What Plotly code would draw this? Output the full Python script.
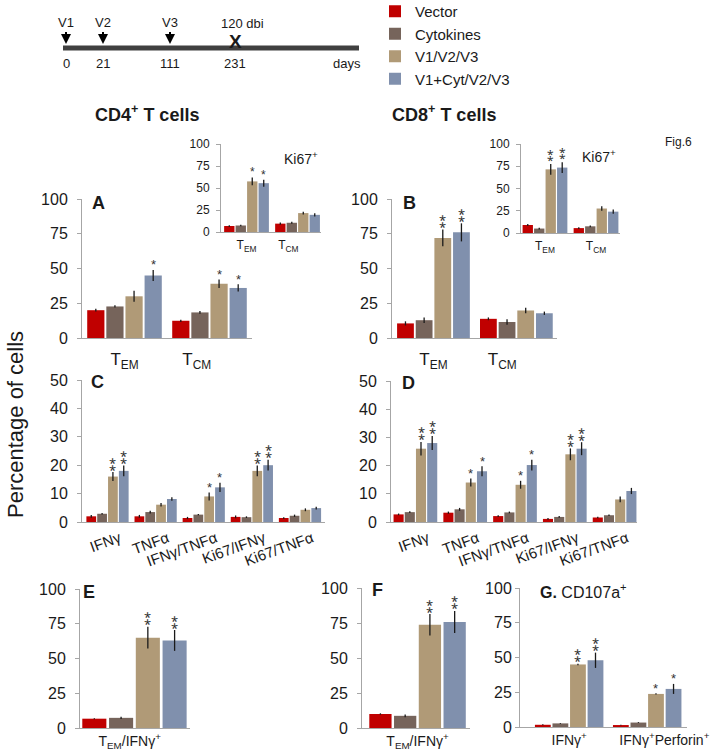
import plotly.graph_objects as go

W, H = 719, 754

# ---------------- data ----------------
groups = ["Vector", "Cytokines", "V1/V2/V3", "V1+Cyt/V2/V3"]
colors = ["#c00000", "#76645b", "#b09a77", "#8090ad"]

mem_labels = ["T<sub>EM</sub>", "T<sub>CM</sub>"]
cyt_labels = ["IFNγ", "TNFα", "IFNγ/TNFα", "Ki67/IFNγ", "Ki67/TNFα"]
ef_labels = ["T<sub>EM</sub>/IFNγ<sup>+</sup>"]
g_labels = ["IFNγ<sup>+</sup>", "IFNγ<sup>+</sup>Perforin<sup>+</sup>"]

# A: CD4+ memory subsets
A_vals = [[20, 12.4], [22.7, 18.4], [30, 39], [45, 36]]
A_err = [[1, 0.8], [0.8, 1], [4, 3], [4, 2.6]]
A_sig = [["", ""], ["", ""], ["", "*"], ["*", "*"]]
# A inset: CD4+ Ki67+
Ai_vals = [[6.8, 9.5], [7.4, 10.5], [57.5, 21.5], [55.5, 19.5]]
Ai_err = [[1, 1.2], [0.8, 1.2], [4.5, 1.5], [4, 1.8]]
Ai_sig = [["", ""], ["", ""], ["*", ""], ["*", ""]]
# B: CD8+ memory subsets
B_vals = [[10.5, 13.8], [12.8, 11.5], [72, 19.8], [76, 17.8]]
B_err = [[1.5, 1], [2, 2], [6, 2], [6.5, 1.2]]
B_sig = [["", ""], ["", ""], ["**", ""], ["**", ""]]
# B inset: CD8+ Ki67+
Bi_vals = [[9, 5.5], [5, 7.5], [71.5, 27.5], [73.5, 24]]
Bi_err = [[1, 1], [1, 1], [6, 2.5], [6, 2.5]]
Bi_sig = [["", ""], ["", ""], ["**", ""], ["**", ""]]
# C: CD4+ cytokines
C_vals = [[2, 2, 1.4, 1.8, 1.4],
          [2.9, 3.5, 2.6, 1.7, 2.2],
          [16, 6.1, 9, 18, 4.3],
          [18, 8.1, 12.2, 20, 4.9]]
C_err = [[0.5, 0.5, 0.4, 0.5, 0.3],
         [0.3, 0.5, 0.2, 0.3, 0.4],
         [1.6, 0.6, 1.4, 1.9, 0.5],
         [1.9, 0.6, 1.6, 1.9, 0.5]]
C_sig = [["", "", "", "", ""],
         ["", "", "", "", ""],
         ["**", "", "*", "**", ""],
         ["**", "", "*", "**", ""]]
# D: CD8+ cytokines
D_vals = [[2.7, 3.3, 2.1, 1.1, 1.6],
          [3.5, 4.5, 3.4, 1.8, 2.4],
          [26, 14, 13.2, 24, 8],
          [28, 18, 20.2, 26, 11]]
D_err = [[0.3, 0.4, 0.3, 0.3, 0.3],
         [0.3, 0.5, 0.3, 0.3, 0.3],
         [2.4, 1.4, 1.4, 2.1, 1],
         [2.5, 1.8, 1.9, 2.3, 1.1]]
D_sig = [["", "", "", "", ""],
         ["", "", "", "", ""],
         ["**", "*", "*", "**", ""],
         ["**", "*", "*", "**", ""]]
# E: CD4+ TEM/IFNγ+
E_vals = [[6.7], [7.3], [65], [63]]
E_err = [[0.4], [0.8], [7.8], [7.5]]
E_sig = [[""], [""], ["**"], ["**"]]
# F: CD8+ TEM/IFNγ+
F_vals = [[10], [8.7], [73.7], [75.7]]
F_err = [[0.5], [1], [7.7], [7.9]]
F_sig = [[""], [""], ["**"], ["**"]]
# G: CD107a+
G_vals = [[1.6, 1.4], [2.6, 3.2], [45, 23.8], [48, 27.4]]
G_err = [[0.4, 0.3], [0.3, 0.3], [0.5, 0.4], [5.5, 3.6]]
G_sig = [["", ""], ["", ""], ["**", "*"], ["**", "*"]]

# timeline (schematic)
tl_events = ["V1", "V2", "V3"]
tl_days = ["0", "21", "111", "231"]

# ---------------- layout helpers ----------------
BARGAP = 0.1
FONT = "Liberation Sans, Arial, sans-serif"
AXCOL = "#a6a6a6"
TXT = "#1a1a1a"
STARCOL = "#333333"
STAR_GLYPH = {"*": "*", "**": "⁑"}


def xp(px):
    return px / W


def yp(py):
    return 1 - py / H


fig = go.Figure()
layout = {}
annotations = []


def add_panel(n, labels, vals, errs, sigs, xdom, ydom, xrange, yrange, ytick,
              tickfont, xfont, legend=False, tickvals=None, tickangle=0,
              standoff=6, xstandoff=4, ticklen=4, star=13):
    xa = "x" if n == 1 else f"x{n}"
    ya = "y" if n == 1 else f"y{n}"
    ncat = len(labels)
    idx = list(range(ncat))
    slot = (1 - BARGAP) / len(groups)
    for k, g in enumerate(groups):
        fig.add_trace(go.Bar(
            x=idx, y=vals[k], name=g, xaxis=xa, yaxis=ya,
            marker=dict(color=colors[k], line=dict(width=0)),
            error_y=dict(type="data", array=errs[k], color="#1a1a1a",
                         thickness=1.3, width=0),
            showlegend=legend, legendrank=k, hoverinfo="skip"))
        for i in idx:
            s = sigs[k][i]
            if not s:
                continue
            double = len(s) > 1
            annotations.append(dict(
                x=i - (1 - BARGAP) / 2 + (k + 0.5) * slot,
                y=vals[k][i] + errs[k][i], xref=xa, yref=ya,
                text=STAR_GLYPH[s], showarrow=False,
                yanchor="middle", yshift=9 if double else 5,
                font=dict(size=star, color=STARCOL, family=FONT)))
    kx = "xaxis" if n == 1 else f"xaxis{n}"
    ky = "yaxis" if n == 1 else f"yaxis{n}"
    layout[kx] = dict(domain=[xp(xdom[0]), xp(xdom[1])], anchor=ya,
                      range=xrange, tickmode="array",
                      tickvals=tickvals if tickvals is not None else idx,
                      ticktext=labels, showline=True, linecolor=AXCOL,
                      linewidth=1, ticks="", showgrid=False, zeroline=False,
                      tickangle=tickangle, ticklabelstandoff=xstandoff,
                      tickfont=dict(size=xfont, color=TXT, family=FONT),
                      fixedrange=True, automargin=False)
    layout[ky] = dict(domain=[yp(ydom[1]), yp(ydom[0])], anchor=xa,
                      range=yrange, tickmode="linear", tick0=0, dtick=ytick,
                      showline=True, linecolor=AXCOL, linewidth=1,
                      ticks="outside", ticklen=ticklen, tickcolor=AXCOL,
                      showgrid=False, zeroline=False,
                      ticklabelstandoff=standoff,
                      tickfont=dict(size=tickfont, color=TXT, family=FONT),
                      fixedrange=True, automargin=False)


add_panel(1, mem_labels, A_vals, A_err, A_sig, (82, 252), (199, 338),
          [-0.5, 1.5], [0, 100], 25, 16, 17, legend=True,
          tickvals=[0, 0.85], xstandoff=6)
add_panel(2, mem_labels, Ai_vals, Ai_err, Ai_sig, (221, 321), (144, 232),
          [-0.5, 1.46], [0, 100], 25, 12, 12, tickvals=[0, 0.82],
          standoff=4, xstandoff=2, star=12)
add_panel(3, mem_labels, B_vals, B_err, B_sig, (392, 557), (199, 338),
          [-0.5, 1.49], [0, 100], 25, 16, 17, tickvals=[0, 0.83],
          xstandoff=6)
add_panel(4, mem_labels, Bi_vals, Bi_err, Bi_sig, (521, 620), (144, 233),
          [-0.47, 1.47], [0, 100], 25, 12, 12, standoff=4, xstandoff=2,
          star=12)
add_panel(5, cyt_labels, C_vals, C_err, C_sig, (82, 325), (380, 522),
          [-0.53, 4.52], [0, 50], 10, 16, 15, tickangle=-20,
          tickvals=[i + 0.25 for i in range(5)], xstandoff=1)
add_panel(6, cyt_labels, D_vals, D_err, D_sig, (391, 637), (381, 522),
          [-0.49, 4.45], [0, 50], 10, 16, 15, tickangle=-20,
          tickvals=[i + 0.25 for i in range(5)], xstandoff=1)
add_panel(7, ef_labels, E_vals, E_err, E_sig, (80, 190), (589, 728),
          [-0.458, 0.467], [0, 100], 25, 16, 14, tickvals=[-0.04],
          xstandoff=0)
add_panel(8, ef_labels, F_vals, F_err, F_sig, (362, 470), (588, 728),
          [-0.505, 0.477], [0, 100], 25, 16, 14, xstandoff=0)
add_panel(9, g_labels, G_vals, G_err, G_sig, (520, 687), (588, 727),
          [-0.63, 1.51], [0, 100], 25, 16, 14, tickvals=[0, 1.22],
          standoff=0, xstandoff=0)


def note(text, x, y, size=12, bold=False, xanchor="center", family=FONT,
         angle=0):
    annotations.append(dict(
        x=xp(x), y=yp(y), xref="paper", yref="paper",
        text=f"<b>{text}</b>" if bold else text, showarrow=False,
        xanchor=xanchor, yanchor="middle", textangle=angle,
        font=dict(size=size, color=TXT, family=family)))


# panel titles, letters
note("CD4<sup>+</sup> T cells", 147, 114, size=18, bold=True)
note("CD8<sup>+</sup> T cells", 444, 114, size=18, bold=True)
note("A", 90, 203, size=18, bold=True, xanchor="left")
note("B", 401, 203, size=18, bold=True, xanchor="left")
note("C", 89, 382, size=18, bold=True, xanchor="left")
note("D", 400, 383, size=18, bold=True, xanchor="left")
note("E", 81, 592, size=18, bold=True, xanchor="left")
note("F", 370, 590, size=18, bold=True, xanchor="left")
note("<b>G.</b> CD107a<sup>+</sup>", 538, 591, size=16, xanchor="left")
note("Ki67<sup>+</sup>", 282, 158, size=14, xanchor="left")
note("Ki67<sup>+</sup>", 580, 156, size=14, xanchor="left")
note("Fig.6", 663, 142, size=12, xanchor="left")
note("Percentage of cells", 15, 425, size=22, angle=-90)

# timeline
tl_px = [66, 103, 170, 235]
shapes = [dict(type="line", xref="paper", yref="paper",
               x0=xp(63), x1=xp(359), y0=yp(48), y1=yp(48),
               line=dict(color="#404040", width=5))]
for ev, x in zip(tl_events, tl_px):
    annotations.append(dict(
        x=xp(x), y=yp(44), xref="paper", yref="paper", text=ev,
        showarrow=True, arrowhead=2, arrowsize=1, arrowwidth=2,
        arrowcolor="#000000", ax=0, ay=-21,
        font=dict(size=13, color=TXT, family=FONT)))
note("<b>X</b>", tl_px[3], 41, size=19)
note("120 dbi", 242, 23, size=13)
for d, x in zip(tl_days, tl_px):
    note(d, x, 63, size=13)
note("days", 347, 63, size=13)

layout.update(dict(
    width=W, height=H, autosize=False,
    margin=dict(l=0, r=0, t=0, b=0, autoexpand=False),
    paper_bgcolor="white", plot_bgcolor="rgba(0,0,0,0)",
    barmode="group", bargap=BARGAP, bargroupgap=0.1,
    font=dict(family=FONT, color=TXT),
    showlegend=True,
    legend=dict(x=xp(375), y=yp(-5), xanchor="left", yanchor="top",
                font=dict(size=15, family=FONT, color=TXT),
                bgcolor="rgba(0,0,0,0)", borderwidth=0,
                itemwidth=30, traceorder="normal"),
    annotations=annotations, shapes=shapes))
fig.update_layout(**layout)

fig.write_html("out.html", config={"displayModeBar": False, "staticPlot": True},
               post_script="document.body.style.margin='0';")
